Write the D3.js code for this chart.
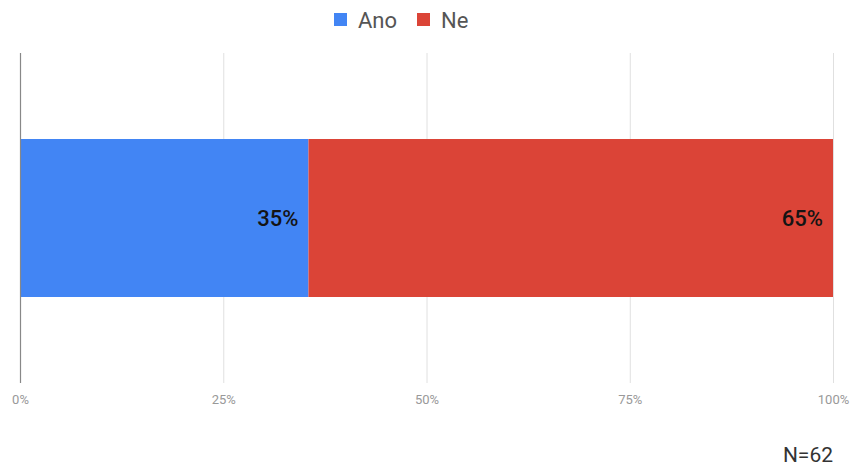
<!DOCTYPE html>
<html><head><meta charset="utf-8">
<script src="https://cdn.jsdelivr.net/npm/d3@7"></script>
<style>body{margin:0;background:#fff;font-family:Roboto,Arial,sans-serif;}</style>
</head><body>
<svg id="c" width="852" height="466"></svg>
<script>
const seriesNames = ["Ano", "Ne"];
const seriesValues = [35.48, 64.52];
const valueLabels = ["35%", "65%"];
const seriesColors = ["#4285f4", "#db4437"];
const tickValues = [0, 25, 50, 75, 100];
const tickLabels = ["0%", "25%", "50%", "75%", "100%"];
const note = "N=62";

const svg = d3.select("#c");
const x = d3.scaleLinear().domain([0, 100]).range([20, 833]);
const y = d3.scaleBand().domain(["row"]).range([139, 297]).padding(0);

// gridlines
svg.append("g").selectAll("line").data(tickValues.slice(1)).join("line")
  .attr("x1", d => x(d) + 0.5).attr("x2", d => x(d) + 0.5)
  .attr("y1", 53).attr("y2", 383)
  .attr("stroke", "#e0e0e0").attr("stroke-width", 1);

// tick labels via axis
const axis = d3.axisBottom(x).tickValues(tickValues).tickFormat((d, i) => tickLabels[i]).tickSize(0).tickPadding(0);
const ag = svg.append("g").attr("transform", "translate(0,399)").call(axis);
ag.select(".domain").remove();
ag.selectAll("text").attr("fill", "#999").attr("font-size", 13).attr("font-family", "Roboto, Arial, sans-serif")
  .attr("dy", "0.35em");

// stacked bars
let cum = 0;
const stacks = seriesValues.map((v, i) => { const s = {name: seriesNames[i], x0: cum, x1: cum + v, label: valueLabels[i], color: seriesColors[i]}; cum += v; return s; });
svg.append("g").selectAll("rect").data(stacks).join("rect")
  .attr("x", d => x(d.x0)).attr("width", d => x(d.x1) - x(d.x0))
  .attr("y", y("row")).attr("height", y.bandwidth())
  .attr("fill", d => d.color);

svg.append("g").selectAll("text").data(stacks).join("text")
  .attr("x", d => x(d.x1) - 10).attr("y", y("row") + y.bandwidth() / 2)
  .attr("text-anchor", "end").attr("dominant-baseline", "central")
  .attr("font-size", 22).attr("font-weight", 500).attr("fill", "#141414").text(d => d.label);

// axis line (baseline)
svg.append("line").attr("x1", x(0) + 0.5).attr("x2", x(0) + 0.5).attr("y1", 53).attr("y2", 383)
  .attr("stroke", "#888").attr("stroke-width", 1.2);

// legend
const lg = svg.append("g");
const legendPos = [334, 417];
seriesNames.forEach((n, i) => {
  lg.append("rect").attr("x", legendPos[i]).attr("y", 13).attr("width", 13).attr("height", 13).attr("fill", seriesColors[i]);
  lg.append("text").attr("x", legendPos[i] + 24).attr("y", 20).attr("dominant-baseline", "central")
    .attr("font-size", 22).attr("fill", "#555").text(n);
});

// note
svg.append("text").attr("x", 833).attr("y", 462).attr("text-anchor", "end")
  .attr("font-size", 21).attr("fill", "#333").text(note);
</script>
</body></html>
